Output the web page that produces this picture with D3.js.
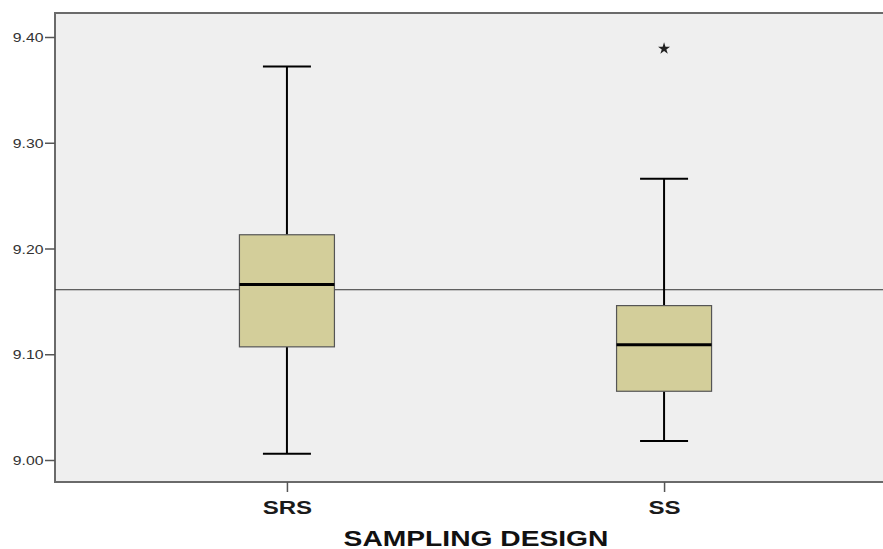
<!DOCTYPE html>
<html><head><meta charset="utf-8">
<script src="https://cdn.jsdelivr.net/npm/d3@7"></script>
<style>html,body{margin:0;padding:0;background:#fff;}svg{display:block;}</style>
</head><body>
<svg id="chart" width="883" height="549"></svg>
<script>
const categories = ["SRS", "SS"];
const whiskerLow  = [9.006, 9.018];
const q1          = [9.107, 9.065];
const medians     = [9.166, 9.109];
const q3          = [9.213, 9.146];
const whiskerHigh = [9.372, 9.266];
const outliers    = [{cat: "SS", value: 9.389}];
const referenceValue = 9.161;
const yTicks = [9.00, 9.10, 9.20, 9.30, 9.40];
const xTitle = "SAMPLING DESIGN";

const svg = d3.select("#chart");
const plotLeft = 55, plotTop = 13, plotBottom = 482, plotRight = 896;
const stretch = 1.3;
const font = "Liberation Sans, Arial, sans-serif";

const y = d3.scaleLinear().domain([9.0, 9.4]).range([460, 37]);
const x = d3.scalePoint().domain(categories).range([plotLeft, plotRight]).padding(0.615);

svg.append("rect").attr("x", plotLeft).attr("y", plotTop).attr("width", plotRight - plotLeft).attr("height", plotBottom - plotTop)
  .attr("fill", "#efefef").attr("stroke", "#6a6a6a").attr("stroke-width", 2);

// y axis
const yAxis = d3.axisLeft(y).tickValues(yTicks).tickFormat(d3.format(".2f")).tickSize(10).tickPadding(2);
const ya = svg.append("g").attr("transform", `translate(${plotLeft},0)`).call(yAxis);
ya.select(".domain").remove();
ya.selectAll(".tick line").attr("stroke", "#555").attr("stroke-width", 1.5);
ya.selectAll(".tick text").attr("font-family", font).attr("font-size", 12.6).attr("fill", "#333")
  .attr("x", -11.5 / 1.25).attr("dy", "0.37em").attr("transform", "scale(1.25,1)");

// x axis
const xAxis = d3.axisBottom(x).tickSize(10).tickPadding(8);
const xa = svg.append("g").attr("transform", `translate(0,${plotBottom})`).call(xAxis);
xa.select(".domain").remove();
xa.selectAll(".tick line").attr("stroke", "#555").attr("stroke-width", 1.5);
xa.selectAll(".tick text").attr("font-family", font).attr("font-size", 18.5).attr("font-weight", "bold").attr("fill", "#1a1a1a")
  .attr("y", 18.9).attr("transform", `scale(${stretch},1)`);

// reference line
svg.append("line").attr("x1", plotLeft).attr("x2", plotRight).attr("y1", y(referenceValue)).attr("y2", y(referenceValue))
  .attr("stroke", "#333").attr("stroke-width", 1);

const boxW = 95, capW = 48;
categories.forEach((c, i) => {
  const cx = x(c);
  const g = svg.append("g");
  g.append("line").attr("x1", cx).attr("x2", cx).attr("y1", y(q3[i])).attr("y2", y(whiskerHigh[i])).attr("stroke", "#000").attr("stroke-width", 2);
  g.append("line").attr("x1", cx).attr("x2", cx).attr("y1", y(q1[i])).attr("y2", y(whiskerLow[i])).attr("stroke", "#000").attr("stroke-width", 2);
  g.append("line").attr("x1", cx - capW / 2).attr("x2", cx + capW / 2).attr("y1", y(whiskerHigh[i])).attr("y2", y(whiskerHigh[i])).attr("stroke", "#000").attr("stroke-width", 2);
  g.append("line").attr("x1", cx - capW / 2).attr("x2", cx + capW / 2).attr("y1", y(whiskerLow[i])).attr("y2", y(whiskerLow[i])).attr("stroke", "#000").attr("stroke-width", 2);
  g.append("rect").attr("x", cx - boxW / 2).attr("y", y(q3[i])).attr("width", boxW).attr("height", y(q1[i]) - y(q3[i]))
    .attr("fill", "#d3ce9a").attr("stroke", "#555").attr("stroke-width", 1.2);
  g.append("line").attr("x1", cx - boxW / 2).attr("x2", cx + boxW / 2).attr("y1", y(medians[i])).attr("y2", y(medians[i]))
    .attr("stroke", "#000").attr("stroke-width", 3);
});

svg.selectAll(".outlier").data(outliers).enter().append("path").attr("class", "outlier")
  .attr("d", d3.symbol().type(d3.symbolStar).size(45))
  .attr("transform", d => `translate(${x(d.cat)},${y(d.value)})`)
  .attr("fill", "#222");

svg.append("text").attr("transform", `translate(476,545.5) scale(${stretch},1)`).attr("text-anchor", "middle")
  .attr("font-family", font).attr("font-size", 21.7).attr("font-weight", "bold").attr("fill", "#111")
  .text(xTitle);
</script>
</body></html>
